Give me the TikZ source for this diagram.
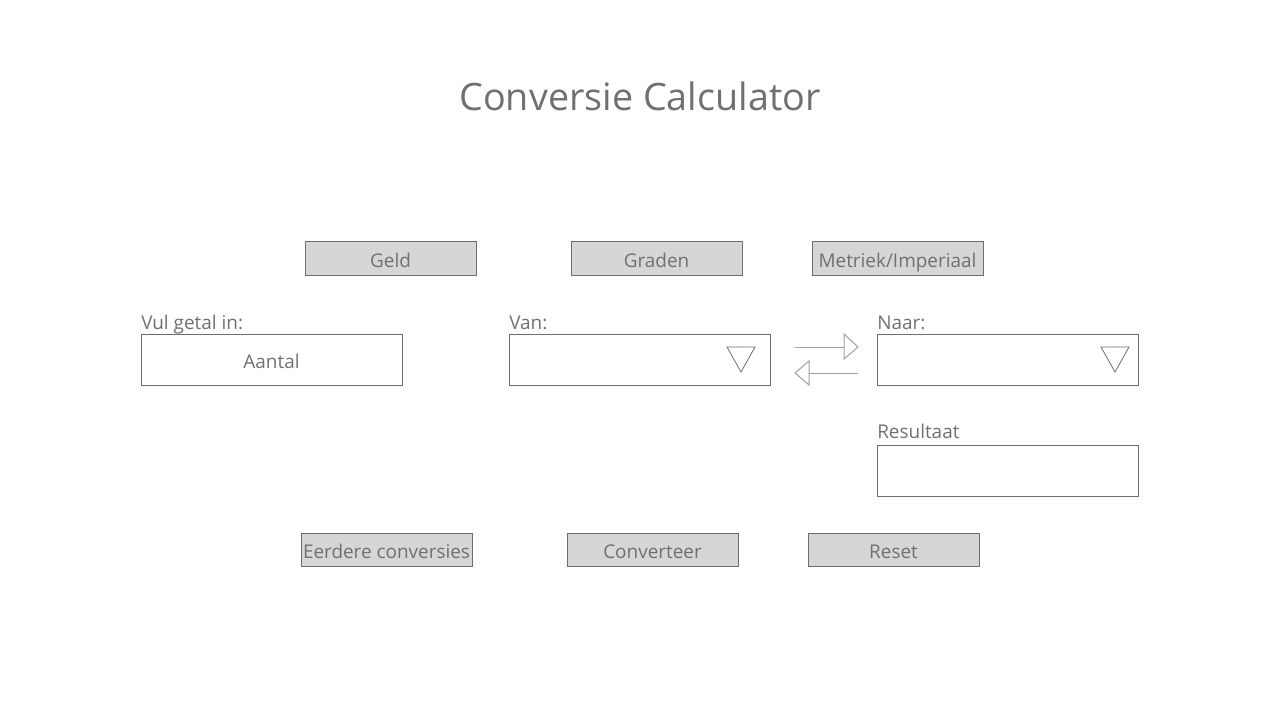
\documentclass[tikz,border=0pt]{standalone}
\usepackage{fontspec}
\setmainfont{Open Sans}
\definecolor{txt}{HTML}{707070}
\definecolor{bord}{HTML}{6E6E6E}
\definecolor{btnfill}{HTML}{D6D6D6}
\definecolor{arr}{HTML}{A0A0A0}
\begin{document}
\begin{tikzpicture}[x=0.75pt,y=-0.75pt,
  btn/.style={draw=bord,fill=btnfill,line width=0.75pt,minimum width=171*0.75pt,minimum height=33*0.75pt,inner sep=0pt,text=txt,font=\fontsize{14.2pt}{16pt}\selectfont,text height=13.3pt,text depth=0pt},
  field/.style={draw=bord,fill=white,line width=0.75pt,minimum width=261*0.75pt,minimum height=51*0.75pt,inner sep=0pt,text=txt,font=\fontsize{14.2pt}{16pt}\selectfont,text height=13.3pt,text depth=0pt},
  lbl/.style={anchor=base west,inner sep=0pt,text=txt,font=\fontsize{14.2pt}{16pt}\selectfont},
  tri/.style={draw=bord,line width=0.6pt},
  arrline/.style={draw=arr,line width=0.75pt}]
\useasboundingbox (0,0) rectangle (1280,720);
\fill[white] (0,0) rectangle (1280,720);
\node[text=txt,font=\fontsize{28.3pt}{34pt}\selectfont,inner sep=0pt] (title) at (640,96) {Conversie Calculator};
% top buttons
\node[btn] (geld) at (390.5,258.5) {Geld};
\node[btn] (graden) at (656.5,258.5) {Graden};
\node[btn] (metriek) at (897.5,258.5) {Metriek/Imperiaal};
% labels and fields
\node[lbl] (lvul) at (141,329) {Vul getal in:};
\node[field] (aantal) at (271.5,359.5) {Aantal};
\node[lbl] (lvan) at (509,329) {Van:};
\node[field] (van) at (639.5,359.5) {};
\node[lbl] (lnaar) at (877,329) {Naar:};
\node[field] (naar) at (1007.5,359.5) {};
\node[lbl] (lres) at (877,438) {Resultaat};
\node[field] (res) at (1007.5,470.5) {};
% dropdown triangles
\draw[tri] (727,347) -- (755,347) -- (741,372) -- cycle;
\draw[tri] (1101,347) -- (1129,347) -- (1115,372) -- cycle;
% swap arrows
\coordinate (a1s) at (795,347);
\coordinate (a1e) at (844,347);
\coordinate (a2s) at (858,373);
\coordinate (a2e) at (809,373);
\draw[arrline] (a1s) -- (a1e);
\draw[arrline,fill=white] (844,334) -- (858,347) -- (844,359) -- cycle;
\draw[arrline] (a2s) -- (a2e);
\draw[arrline,fill=white] (809,361) -- (795,373) -- (809,385) -- cycle;
% bottom buttons
\node[btn] (eerdere) at (386.5,549.5) {Eerdere conversies};
\node[btn] (conv) at (652.5,549.5) {Converteer};
\node[btn] (reset) at (893.5,549.5) {Reset};
\end{tikzpicture}
\end{document}
